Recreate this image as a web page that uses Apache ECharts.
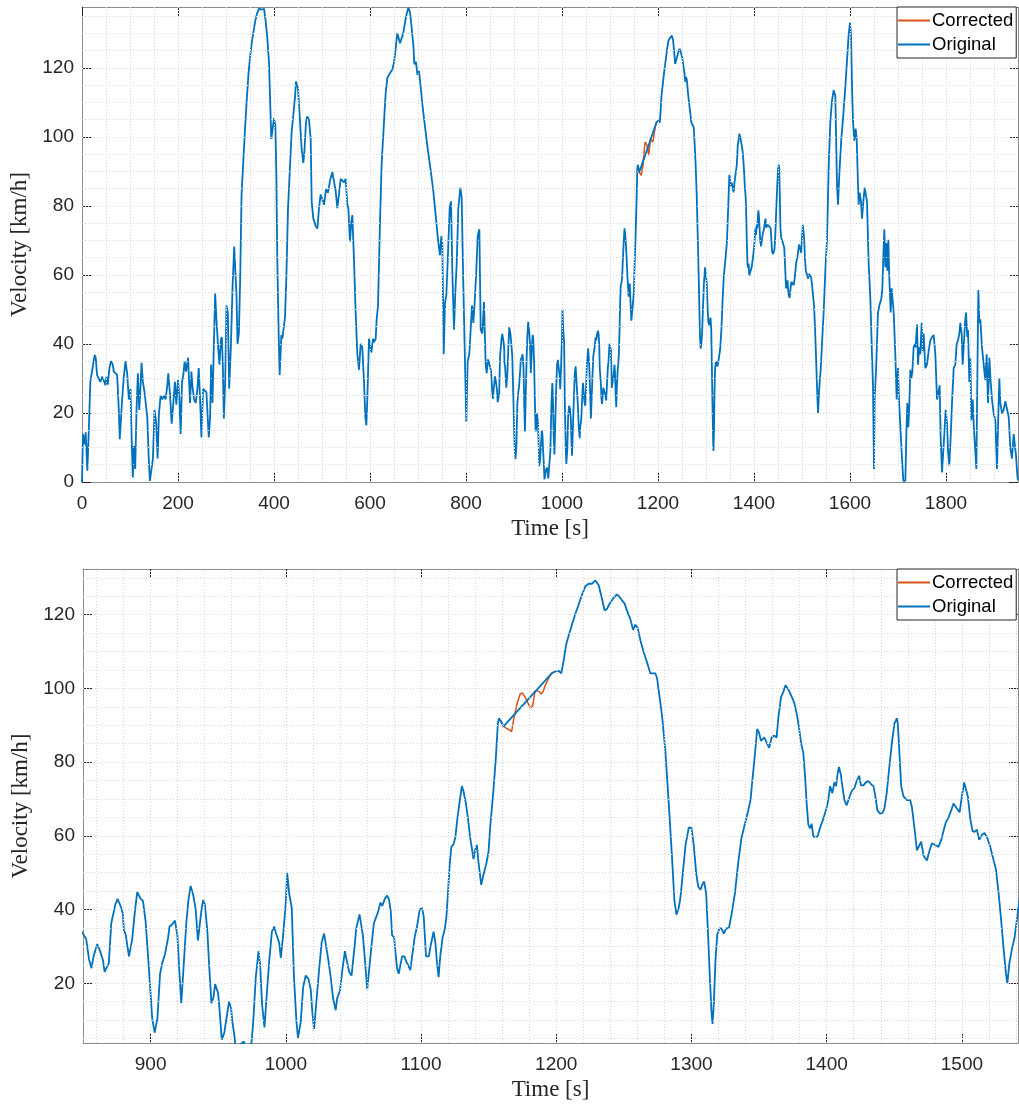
<!DOCTYPE html>
<html>
<head>
<meta charset="utf-8">
<script src="https://cdn.jsdelivr.net/npm/echarts@6/dist/echarts.min.js"></script>
<style>
html,body{margin:0;padding:0;background:#fff;}
#chart{width:1019px;height:1106px;}
</style>
</head>
<body>
<div id="chart"></div>
<script>
// ---------- DATA ----------
// Original velocity trace: [time s, velocity km/h]
const originalTrace = [
[0,0],[2,13.9],[4.9,10.9],[7.7,14.4],[11.1,3.3],[13.9,13.9],[17.4,29],[20.2,31.5],[23,32],[26.5,36.8],[28.6,36],
[31.4,31],[35.5,30.5],[38.3,29],[41.8,30.5],[45.3,29.5],[48.8,28],[50.9,30.5],[53.7,28.2],[57.1,33],[60.6,35],
[64.1,34],[66.2,32],[69.7,32.5],[73.2,31],[76.7,20.9],[78.7,12.4],[83.6,23.9],[87.1,30.5],[90.6,35],[94.1,31.5],
[97.6,23.9],[101,27],[103,15],[105.9,1.3],[108,10.4],[110.8,3.8],[113.6,20.9],[116.4,31.5],[119.2,20.9],[121.9,27.5],
[124,34.5],[126.8,29],[130.3,26],[133.8,25.5],[135.9,18.9],[139.4,5.8],[141.5,0.3],[144.9,0],[147.7,6.8],[151.2,20.9],
[154.7,16.9],[157.5,6.8],[160.3,19.9],[163.8,25],[167.2,23.9],[170.7,25],[174.2,23.9],[177.7,28],[179.8,31.5],
[183.3,25.5],[186.8,16.9],[190.2,17.4],[193.7,29],[196.5,22.4],[200,29.5],[202.8,24.4],[205.6,13.9],[208.4,29],
[211.1,31],[213.9,35],[216.7,32],[221,36],[223.1,29],[225.1,22.9],[227.9,32],[230,28],[233.4,23.9],[236.9,22.9],
[240.4,27],[243.2,33],[246,23.9],[248.8,12.9],[252.3,27],[255.7,27.5],[259.2,26],[261.3,25.5],[264.1,12.9],
[266.9,18.9],[269,34],[271.8,22.9],[277.4,54.6],[280.1,47],[283.6,39],[286.4,34],[289.2,41],[291.3,42],[293.4,34],
[295.5,18.4],[298.3,29],[301,51.1],[303.8,49.1],[306.6,27],[310.1,39],[313.6,56.1],[317.1,68.2],[319.2,67.7],
[321.9,54.1],[324,40],[326.8,43],[329.6,59.2],[332.4,83.3],[336.6,94.4],[340.1,103.4],[343.6,111.5],[347,118.5],
[350.5,123.5],[354,127.6],[357.5,130.6],[361,133.6],[364.5,135.6],[369,137.2],[373.6,136.8],[379.2,137.1],
[382.6,133.6],[386.1,128.6],[389.6,121.5],[391.7,111.5],[394.4,99.4],[397.2,102.4],[400,105.4],[402.8,103.4],
[404.9,89.3],[406.9,64.2],[409.7,43],[411.8,31],[415.3,42.6],[417.4,41.5],[420.1,44.6],[422.9,47.6],[425.7,59.2],
[429.2,79.3],[433.3,91.3],[436.8,101.4],[440.3,106.4],[443.8,111.5],[445.8,116],[450,114],[454.2,104.4],
[457.6,96.4],[461.1,92.4],[463.2,95.4],[466.7,104.4],[469.4,105.9],[472.9,104.9],[476.4,99.4],[478.5,81.3],
[481.9,76.3],[486.8,74.2],[490.3,73.4],[493.8,79.3],[497.2,83.3],[500.7,83.8],[504.2,80.3],[508.3,84.8],
[512.5,83.8],[516.7,87.3],[521.5,89.8],[525,89.3],[528.5,84.3],[531.9,79.3],[535.4,83.3],[538.9,87.8],
[542.4,87.3],[545.8,86.8],[549.3,87.8],[552.8,80.3],[554.9,79.3],[558.3,69.7],[561.1,75.3],[563.2,77.3],
[566.7,64.2],[570.1,49.1],[573.6,37],[577.1,32.5],[580.6,40],[584,39],[587.5,29],[590.3,18.9],[592.4,16.4],
[594.4,23.9],[597.9,41.5],[600,42],[602.8,37.5],[606.3,41.5],[608.3,40.5],[611.8,41.5],[613.9,47.1],[616.7,51.1],
[620.8,75.3],[624.3,92.4],[629.2,104.4],[632.6,112.5],[636.1,117],[639.6,118],[643.1,118],[646.5,119.5],
[650,121.5],[653.5,125.6],[656.9,130.1],[659,129.6],[662.5,127.1],[665.9,127.6],[669.4,130.1],[672.9,133.1],
[676.4,135.6],[679.9,137.4],[683.3,136.1],[686.8,131.6],[690.3,126.6],[692.4,121],[695.8,121.7],[698.6,118],
[702.1,119],[705.6,114.5],[709,109.5],[712.5,105.4],[719.4,97.4],[726.4,90.3],[731.9,84.3],[736.8,77.3],
[741.7,70.2],[745.8,65.7],[748.6,71.2],[750.7,69.2],[753.5,37],[756.3,52.1],[759,54.1],[762.5,66.2],[766,79.3],
[768.8,81.3],[771.5,61.2],[775,44.1],[777.8,55.1],[780.6,63.2],[784,79.3],[788.2,85.3],[791,82.3],[793.8,61.2],
[797.2,39],[800.7,17.4],[803.5,35],[806.9,37],[809.7,44.1],[812.5,51.1],[815.3,46.1],[818.1,52.1],[821.5,61.2],
[824.3,71.2],[827.8,73.2],[830.6,44.1],[834,43],[837.5,52.1],[841,34],[843.1,31.5],[845.8,35.5],
[849.4,33.8],[852.3,32.1],[854.5,26.4],[856.3,24.1],[857.8,27.3],[860.5,30.6],[862.2,29.2],[864.7,26.4],[866,23.1],
[867.4,22.6],[869.1,25.5],[870.9,36.3],[872.1,36.8],[874,41.5],[875.6,42.9],[876.5,42.6],[878.3,40.5],[879.5,38.8],
[880.2,34.4],[881.5,33.4],[884,27.3],[886.4,32],[888.4,39.6],[890.1,44.8],[891.4,45.3],[892.6,42.9],[894.3,42.4],
[896.3,36.8],[898.3,26.4],[900,17],[901.2,10.4],[903,6.6],[905,10.4],[907,22.6],[908.6,25.5],[910.6,27.8],[913,32.5],
[914,35.4],[916,36],[918,37],[919.8,33],[921.5,21.7],[922.7,14.6],[924.7,26.4],[926.4,36.3],[927.9,42.4],[929.6,46.4],
[931.6,43.8],[933.3,40.1],[935,31.6],[936.3,31.9],[937.8,40.5],[939,42.6],[940.2,41.3],[942,34],[943.2,25.5],
[945,14.6],[946.4,16],[947.7,19.8],[948.9,20.3],[949.9,17.4],[951.1,12.3],[952.6,4.7],[954.5,6.6],[958,15],
[959.5,13.2],[960.5,9.4],[961.7,6.6],[963.5,0.8],[966.5,3.5],[969,4.2],[971.5,1],[974,1.5],[975.8,9],[977.8,21.7],
[979.8,28.7],[981,25],[982.5,14],[984.2,8],[986.5,20],[987.8,26.4],[989.7,34],[991.4,35.4],[992.6,33.7],[993.9,33.5],
[995.1,31],[996.3,26.9],[998,33],[1000,42],[1001,50],[1002.5,44.3],[1004.4,40.5],[1006,21.7],[1007.9,9.4],[1009,5.2],
[1011,9.4],[1012.8,18.9],[1014.7,22.1],[1016.7,21.2],[1018.4,18.4],[1019.7,11.8],[1020.9,7.6],[1022.6,15],
[1024.6,23.6],[1026.5,31.1],[1028.3,33.5],[1029.5,33],[1031.4,26.4],[1033.2,21.7],[1034.9,16],[1036.9,12.7],
[1038,16],[1040,17.9],[1041.8,23.6],[1043.7,28.7],[1044.9,28.7],[1046,24.5],[1047,23],[1048.6,22.1],[1050.4,28.3],
[1052.1,34.9],[1054.5,38.7],[1055.3,38.2],[1057,33],[1058.5,26.4],[1060.2,18.4],[1061.4,17.9],[1063.1,29.2],
[1065.1,36.3],[1066.3,36.8],[1068,39.1],[1070,41.9],[1071.3,41],[1073.2,42.9],[1074.9,43.8],[1076.2,42.9],
[1077.6,39.6],[1078.6,33],[1080.1,32.5],[1081.1,28.3],[1082.3,24],[1083.5,22.6],[1084.8,22.1],[1086,27.3],
[1087.7,27.3],[1089,25.9],[1090.4,25],[1092.1,23.6],[1093.4,27.3],[1095.3,32.5],[1097,35.4],[1099,40],[1100.7,40.5],
[1102,38.1],[1103.7,27.3],[1105.7,27.3],[1107.6,31.1],[1109.3,34],[1110.6,31.1],[1111.8,25.5],[1113,21.7],
[1114.2,27.3],[1116,32.5],[1117.4,34.4],[1118.7,37.7],[1119.9,44.3],[1121.1,51.8],[1122.4,57],[1124,57.7],
[1125.3,59.4],[1127,65],[1128.7,69.7],[1130.2,73.5],[1131.4,72.1],[1133.2,68.8],[1134.6,65],[1136.4,59.4],
[1137.6,56.6],[1138.8,53.7],[1140,56.1],[1141.3,57.5],[1142.5,52.8],[1144.5,46.7],[1146.2,49.5],[1148.2,52.3],
[1149.9,55.6],[1151.1,62.2],[1153.6,72.6],[1155.3,81],[1156.8,90.5],[1157.7,91.9],[1159,91.4],[1161,89.7],
[1197,104.2],[1199.3,104.6],[1201.7,104.8],[1203.7,104.1],[1205.4,107.4],[1207.2,111.7],[1209.1,114.2],
[1211.6,117.3],[1214.1,120.2],[1216.5,122.7],[1219,125.4],[1221.5,127.7],[1224,128.4],[1226.4,128.4],[1228.9,129.3],
[1230.1,129.1],[1231.4,128],[1233.8,124.4],[1235.8,121.1],[1237.5,121.6],[1240,123.3],[1242.5,124.6],[1244.9,125.5],
[1246.7,124.9],[1248.6,123.9],[1250.6,123],[1252.3,121.1],[1254.8,118.8],[1256.8,115.9],[1258.5,117.3],
[1260.2,116.4],[1262.2,113.1],[1264.7,109.8],[1267.2,107],[1269.6,104.1],[1271.4,104.1],[1273.3,104.1],
[1274.6,102.7],[1276.3,98],[1278.3,92.4],[1280.7,83],[1283.2,68.8],[1285.7,53.7],[1287.4,42.4],[1288.9,38.6],
[1290.6,40.5],[1291.9,43.4],[1293.6,49.9],[1295.6,57.5],[1298,62.2],[1300,62.2],[1301.7,57.5],[1303.5,49.9],
[1305,46.2],[1306.7,45.4],[1307.9,46.7],[1309.4,47.6],[1310.9,44.3],[1312.3,33],[1313.6,21.7],[1314.8,12.3],
[1315.6,9],[1316.5,14.1],[1317.8,26.4],[1319,33],[1320.7,34.9],[1322.2,34.9],[1323.9,33.5],[1325.7,34.9],
[1327.7,35],[1329.6,38.6],[1332.1,44.3],[1334.6,52.8],[1337,59.4],[1339.5,63.2],[1342,66.9],[1343.7,69.8],
[1344.9,74.5],[1346.9,82],[1348.6,89],[1349.9,88.1],[1351.4,85.8],[1352.3,85.3],[1353.8,86.7],[1355.6,85.3],
[1357.5,83.9],[1359.3,86.7],[1361.2,87.2],[1363,86.7],[1364.2,91.9],[1366.2,97.6],[1367.9,99],[1369.6,100.9],
[1370.4,101.3],[1372.1,99.4],[1374.1,97.8],[1376,96.1],[1377.8,93.3],[1379.5,89.5],[1381,85.3],[1382.7,82.5],
[1384,76.3],[1385.2,68.8],[1386.4,63.1],[1387.7,62],[1388.9,63.3],[1390.1,59.8],[1391.4,59.4],[1393.3,59.8],
[1395.1,62.2],[1397.5,64.6],[1400,67.7],[1401.2,69.7],[1402.5,73.5],[1403.3,73.5],[1404.2,71.6],[1405.7,74.5],
[1406.9,73.5],[1408.1,76.8],[1409.1,78.7],[1410.4,76.8],[1411.6,73.5],[1413.1,69.7],[1414.8,68.3],[1416.5,70.2],
[1418.5,72.1],[1420.5,73],[1422.2,74.9],[1424,76.3],[1425.4,73.7],[1427.2,73.7],[1428.9,74.5],[1430.9,74.9],
[1432.8,74],[1434.6,73.5],[1435.8,71.2],[1437.5,66.9],[1439.5,66],[1441.2,66.2],[1442.7,67.4],[1444.4,71.6],
[1446.2,78.2],[1448.1,84.8],[1450.1,90.5],[1451.9,91.9],[1452.6,90.5],[1453.6,83.9],[1455.1,73.5],[1456.8,70.7],
[1459.3,69.7],[1461.7,69.7],[1463,67.9],[1464.9,62.2],[1466.7,56.1],[1467.9,56.1],[1469.9,58.4],[1471.6,54.7],
[1474.1,53.3],[1475.8,55.6],[1477.8,58],[1480.2,57.5],[1482.7,57],[1484.7,58.9],[1486.4,61.3],[1488.1,63.6],
[1490.1,65],[1492.1,66.9],[1493.8,68.8],[1496.3,67.4],[1498.3,66.4],[1500,70.7],[1501.7,74.5],[1503,74.9],
[1504.4,70.7],[1506.2,64.6],[1507.9,61.3],[1509.4,61.1],[1511.1,61.7],[1512.8,58.9],[1514.8,60.3],[1516.8,60.8],
[1518.8,59.4],[1521,57],[1523.5,53.3],[1525.2,50.9],[1527.2,44.3],[1529.1,36.8],[1530.9,29.2],[1532.6,22.6],
[1533.6,20],[1535.1,25.4],[1537,29.2],[1539,32.5],[1541.5,39.6],
[1545.1,49.1],[1548.6,61.2],[1552.1,70.2],[1555.6,91.3],[1559,104.4],[1562.5,110.5],[1566,113.5],[1569.4,112],
[1572.9,86.3],[1575,80.3],[1577.8,89.3],[1581.9,99.4],[1586.1,106.4],[1590.3,114.5],[1594.4,123.5],[1597.2,129.6],
[1600,133.1],[1602.1,129.6],[1604.2,114.5],[1606.3,104.4],[1609,98.9],[1611.8,102.4],[1613.9,99.4],[1616,89.3],
[1618.1,80.3],[1620.1,83.8],[1622.9,81.3],[1625,76.3],[1627.8,81.3],[1630.6,85.3],[1633.3,84.8],[1635.4,81.3],
[1638.9,63.2],[1642.4,53.1],[1645.8,37],[1647.9,28],[1650,3.8],[1651.4,24.9],[1654.2,32],[1658.3,49.1],
[1661.1,51.1],[1665.3,53.1],[1667.4,56.1],[1669.4,65.2],[1671.5,73.2],[1673.6,62.2],[1675.7,69.2],[1677.8,61.2],
[1679.9,70.2],[1681.9,59.2],[1684.7,49.1],[1686.8,56.1],[1688.9,56.6],[1691,49.1],[1694.4,37],[1697.2,23.9],
[1700,33],[1702.1,23.9],[1704.9,15.9],[1708.3,6.8],[1711.1,0.3],[1715.3,0.3],[1717.4,13.9],[1719.4,22.9],
[1721.5,15.9],[1723.6,22.4],[1725.7,32.5],[1727.8,30],[1729.9,32],[1732.6,39],[1734.7,40],[1736.8,39],
[1739.6,45.6],[1741.7,34],[1743.8,39],[1746.5,37],[1749.3,46.1],[1751.4,38],[1753.5,43],[1756.9,33],[1760.4,34],
[1763.9,38],[1767.4,41],[1770.8,42],[1774.3,42.6],[1777.8,37],[1781.3,23.9],[1784.7,23.9],[1786.8,28],
[1788.9,12.9],[1791.7,2.8],[1794.4,2.3],[1796.5,13.9],[1799.3,20.9],[1802.1,16.9],[1804.2,8.9],[1806.9,4.8],
[1809.7,12.9],[1812.5,22.9],[1816,33],[1819.4,34],[1822.2,40],[1825,41],[1827.8,43],[1829.9,46.1],[1832.6,43],
[1834.7,34],[1836.8,39],[1839.6,46.1],[1841.7,49.1],[1844.4,42],[1845.8,44.1],[1848.6,29],[1850.7,36],
[1852.8,17.9],[1855.6,23.9],[1858.3,14.9],[1861.1,8.9],[1863.2,3.8],[1866,39],[1867.4,55.6],[1869.4,46.1],
[1871.5,47.1],[1875,39],[1878.5,34],[1881.9,29.5],[1884.7,37],[1887.5,22.9],[1890.3,36],[1893.1,29],[1895.8,23.9],
[1899.3,19.9],[1902.8,17.9],[1906.3,3.8],[1908.3,15.9],[1911.1,30],[1913.2,22.9],[1916.7,19.9],[1920.1,20.9],
[1923.6,23.4],[1927.1,22.9],[1930.6,18.9],[1934,9.9],[1937.5,6.8],[1941,13.9],[1943.1,13.9],[1945.8,7.8],
[1948.6,1.8],[1950,0.5]
];
// Corrected trace over the repaired segment: [time s, velocity km/h]
const correctedTrace = [
[1159,91.4],[1161,89.7],[1163,89.2],[1165,88.8],[1167,88.3],[1168.4,91.4],[1170.9,95.7],[1173.3,98.5],[1175,98.8],
[1177,97.6],[1179,96.1],[1180.7,94.7],[1182.5,95.2],[1184.4,99.4],[1185.7,99.9],[1187.4,99.2],[1188.9,98.5],
[1190.4,99.2],[1191.9,100.9],[1194.3,102.7],[1196.3,104.1],[1197,104.2],[1199.3,104.6]
];
const seriesNames = ['Corrected', 'Original'];
// Tick labels
const topXTicks = [0, 200, 400, 600, 800, 1000, 1200, 1400, 1600, 1800];
const topYTicks = [0, 20, 40, 60, 80, 100, 120];
const bottomXTicks = [900, 1000, 1100, 1200, 1300, 1400, 1500];
const bottomYTicks = [20, 40, 60, 80, 100, 120];
// Axis limits
const topXRange = [0, 1950];
const topYRange = [0, 137.6];
const bottomXRange = [850, 1541.5];
const bottomYRange = [3.8, 132.4];
// Minor grid steps
const topMinorStep = {x: 50, y: 5};
const bottomMinorStep = {x: 20, y: 5};

// ---------- STYLE ----------
const COL_ORIG = '#0072BD', COL_CORR = '#D95319';
const TXT = '#262626';
const AXLINE = '#8c8c8c';
const LABEL_FONT = 'Liberation Sans, Arial, Helvetica, sans-serif';
const TITLE_FONT = 'Liberation Serif, Times New Roman, serif';

function gridValues(range, step) {
  const out = [];
  let v = Math.ceil(range[0] / step) * step;
  for (; v <= range[1] + 1e-9; v += step) {
    const r = +v.toFixed(6);
    if (r > range[0] + 1e-6 && r < range[1] - 1e-6) out.push(r);
  }
  return out;
}

const grids = [
  {left: 82, top: 7, width: 936, height: 475},
  {left: 83, top: 569, width: 935, height: 474}
];
const panels = [
  {xr: topXRange, yr: topYRange, xt: topXTicks, yt: topYTicks, step: topMinorStep},
  {xr: bottomXRange, yr: bottomYRange, xt: bottomXTicks, yt: bottomYTicks, step: bottomMinorStep}
];
const plain = v => String(v);

const xAxes = [], yAxes = [], series = [], legends = [];
panels.forEach((p, gi) => {
  const tickStyle = {show: true, inside: true, length: 9, lineStyle: {color: TXT, width: 1}};
  const lineStyle = {show: true, onZero: false, lineStyle: {color: AXLINE, width: 1}};
  xAxes.push({
    gridIndex: gi, type: 'value', min: p.xr[0], max: p.xr[1], position: 'bottom',
    axisLine: lineStyle,
    axisTick: Object.assign({customValues: p.xt}, tickStyle),
    axisLabel: {customValues: p.xt, formatter: plain, color: TXT, fontSize: 19, fontFamily: LABEL_FONT, margin: 12},
    splitLine: {show: false},
    name: 'Time [s]', nameLocation: 'middle', nameGap: 35,
    nameTextStyle: {fontFamily: TITLE_FONT, fontSize: 23, color: TXT}
  });
  xAxes.push({
    gridIndex: gi, type: 'value', min: p.xr[0], max: p.xr[1], position: 'top',
    axisLine: lineStyle,
    axisTick: Object.assign({customValues: p.xt}, tickStyle),
    axisLabel: {show: false}, splitLine: {show: false}
  });
  yAxes.push({
    gridIndex: gi, type: 'value', min: p.yr[0], max: p.yr[1], position: 'left',
    axisLine: lineStyle,
    axisTick: Object.assign({customValues: p.yt}, tickStyle),
    axisLabel: {customValues: p.yt, formatter: plain, color: TXT, fontSize: 19, fontFamily: LABEL_FONT, margin: 8},
    splitLine: {show: false},
    name: 'Velocity [km/h]', nameLocation: 'middle', nameGap: 45, nameRotate: 90,
    nameTextStyle: {fontFamily: TITLE_FONT, fontSize: 23, color: TXT}
  });
  yAxes.push({
    gridIndex: gi, type: 'value', min: p.yr[0], max: p.yr[1], position: 'right',
    axisLine: lineStyle,
    axisTick: Object.assign({customValues: p.yt}, tickStyle),
    axisLabel: {show: false}, splitLine: {show: false}
  });

  const xi = gi * 2, yi = gi * 2;
  const gl = [];
  gridValues(p.xr, p.step.x).forEach(v => gl.push({xAxis: v}));
  gridValues(p.yr, p.step.y).forEach(v => gl.push({yAxis: v}));
  series.push({
    type: 'line', xAxisIndex: xi, yAxisIndex: yi, data: [], silent: true, z: 1,
    animation: false, legendHoverLink: false,
    markLine: {
      silent: true, animation: false, symbol: ['none', 'none'],
      label: {show: false},
      lineStyle: {color: '#d9d9d9', width: 1, type: [1, 2]},
      emphasis: {disabled: true},
      data: gl
    }
  });
  series.push({
    name: seriesNames[0], type: 'line', xAxisIndex: xi, yAxisIndex: yi,
    data: correctedTrace, showSymbol: false, symbol: 'none', z: 2, animation: false,
    lineStyle: {color: COL_CORR, width: 1.5}, itemStyle: {color: COL_CORR},
    emphasis: {disabled: true}
  });
  series.push({
    name: seriesNames[1], type: 'line', xAxisIndex: xi, yAxisIndex: yi,
    data: originalTrace, showSymbol: false, symbol: 'none', z: 3, animation: false,
    lineStyle: {color: COL_ORIG, width: 1.8}, itemStyle: {color: COL_ORIG},
    emphasis: {disabled: true}
  });
  legends.push({
    data: seriesNames.map(n => ({name: n, icon: 'rect'})),
    orient: 'vertical', left: 897, top: grids[gi].top,
    backgroundColor: '#ffffff', borderColor: TXT, borderWidth: 1, borderRadius: 0,
    padding: [4, 3, 4, 1], itemGap: 5, itemWidth: 32, itemHeight: 2,
    selectedMode: false, z: 10,
    textStyle: {fontFamily: LABEL_FONT, fontSize: 18.5, color: '#000', padding: [0, 0, 0, -3]}
  });
});

const chart = echarts.init(document.getElementById('chart'), null, {renderer: 'canvas'});
chart.setOption({
  backgroundColor: '#ffffff',
  animation: false,
  grid: grids,
  xAxis: xAxes,
  yAxis: yAxes,
  legend: legends,
  series: series
});
</script>
</body>
</html>
